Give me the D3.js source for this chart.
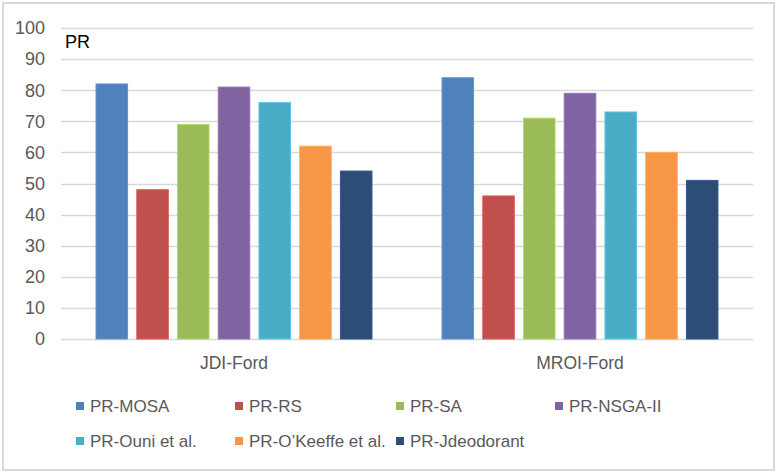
<!DOCTYPE html>
<html>
<head>
<meta charset="utf-8">
<script src="https://cdn.jsdelivr.net/npm/d3@7.9.0/dist/d3.min.js"></script>
<style>
  body { margin: 0; background: #fff; }
  text { font-family: "Liberation Sans", Arial, sans-serif; }
</style>
</head>
<body>
<svg id="chart" width="779" height="474"></svg>
<script>
// data
const categories = ['JDI-Ford', 'MROI-Ford'];
const seriesNames = ['PR-MOSA', 'PR-RS', 'PR-SA', 'PR-NSGA-II', 'PR-Ouni et al.', 'PR-O\u2019Keeffe et al.', 'PR-Jdeodorant'];
const jdiValues = [82, 48, 69, 81, 76, 62, 54];
const mroiValues = [84, 46, 71, 79, 73, 60, 51];
const yTicks = [0, 10, 20, 30, 40, 50, 60, 70, 80, 90, 100];
const colors = ['#4F81BD', '#C0504D', '#9BBB59', '#8064A2', '#4BACC6', '#F79646', '#2C4D75'];

const valuesByCat = [jdiValues, mroiValues];

const svg = d3.select('#chart');

// outer frame
svg.append('rect')
    .attr('x', 3).attr('y', 3)
    .attr('width', 771).attr('height', 467)
    .attr('fill', '#fff')
    .attr('stroke', '#d9d9d9')
    .attr('stroke-width', 2);

const plotLeft = 61, plotRight = 753, plotTop = 28, plotBottom = 339;

let y = d3.scaleLinear().domain([0, 100]).range([plotBottom, plotTop]);
let x0 = d3.scaleBand().domain(categories).range([plotLeft, plotRight]);
let x1 = d3.scaleBand().domain(seriesNames)
    .range([0, x0.bandwidth()])
    .paddingInner(0.2255)
    .paddingOuter(0.86);

// gridlines
svg.append('g')
    .selectAll('line')
    .data(yTicks)
    .join('line')
    .attr('x1', plotLeft).attr('x2', plotRight)
    .attr('y1', d => Math.round(y(d)) + 0.5)
    .attr('y2', d => Math.round(y(d)) + 0.5)
    .attr('stroke', '#d9d9d9')
    .attr('stroke-width', 1.5);

// y tick labels
svg.append('g')
    .selectAll('text')
    .data(yTicks)
    .join('text')
    .attr('x', 45)
    .attr('y', d => y(d))
    .attr('dy', '0.35em')
    .attr('text-anchor', 'end')
    .attr('fill', '#595959')
    .attr('font-size', 18)
    .text(d => d);

// bars
categories.forEach((cat, ci) => {
    let g = svg.append('g').attr('transform', `translate(${x0(cat)},0)`);
    g.selectAll('rect')
        .data(valuesByCat[ci])
        .join('rect')
        .attr('x', (d, i) => x1(seriesNames[i]))
        .attr('y', d => y(d))
        .attr('width', x1.bandwidth())
        .attr('height', d => y(0) - y(d))
        .attr('fill', (d, i) => colors[i])
        .attr('stroke', (d, i) => d3.color(colors[i]).brighter(0.4))
        .attr('stroke-width', 1);
});

// category labels
svg.append('g')
    .selectAll('text')
    .data(categories)
    .join('text')
    .attr('x', d => x0(d) + x0.bandwidth() / 2)
    .attr('y', 369)
    .attr('text-anchor', 'middle')
    .attr('fill', '#595959')
    .attr('font-size', 17.5)
    .text(d => d);

// "PR" label inside plot
svg.append('text')
    .attr('x', 65)
    .attr('y', 48)
    .attr('fill', '#000')
    .attr('font-size', 18)
    .text('PR');

// legend
const legendCols = [76, 235, 396, 555];
const legendRows = [406, 441];
let legend = svg.append('g')
    .selectAll('g')
    .data(seriesNames)
    .join('g')
    .attr('transform', (d, i) => `translate(${legendCols[i % 4]},${legendRows[Math.floor(i / 4)]})`);

legend.append('rect')
    .attr('x', 0).attr('y', -4)
    .attr('width', 8).attr('height', 8)
    .attr('fill', (d, i) => colors[i]);

legend.append('text')
    .attr('x', 14)
    .attr('y', 0)
    .attr('dy', '0.35em')
    .attr('fill', '#595959')
    .attr('font-size', 17)
    .text(d => d);
</script>
</body>
</html>
